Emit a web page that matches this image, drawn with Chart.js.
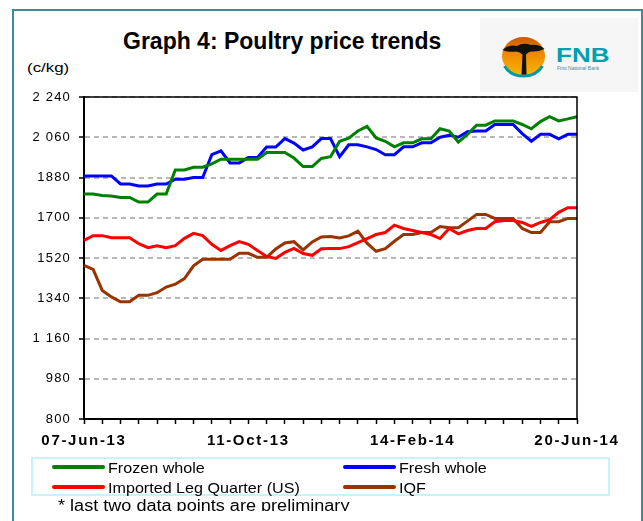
<!DOCTYPE html>
<html>
<head>
<meta charset="utf-8">
<script src="https://cdn.jsdelivr.net/npm/chart.js@4.4.1/dist/chart.umd.min.js"></script>
<style>
  html, body { margin: 0; padding: 0; background: #fff; }
  body { width: 643px; height: 521px; overflow: hidden; position: relative; font-family: "Liberation Sans", Arial, sans-serif; }
  #frame { position: absolute; left: 12px; top: 9px; width: 631px; height: 700px; box-sizing: border-box; border: 2px solid #3a8b9c; }
  #logoBg { position: absolute; left: 480px; top: 18px; width: 158px; height: 74px; background: #f6f6f6; }
  #logo { position: absolute; left: 500px; top: 35px; }
  #chart { position: absolute; left: 0; top: 0; }
  .txt { position: absolute; white-space: nowrap; color: #000; transform-origin: 0 0; }
  #title { left: 123px; top: 30px; font-size: 23px; line-height: 23px; font-weight: bold; }
  #unit { left: 27px; top: 61px; font-size: 13px; line-height: 13px; transform: scaleX(1.3); }
  #fnb { left: 556px; top: 45px; font-size: 20px; line-height: 20px; font-weight: bold; color: #00a0b0; transform: scaleX(1.3); }
  #fnbSub { left: 557px; top: 66px; font-size: 5px; line-height: 5px; color: #4a8a94; }
  #legend { position: absolute; left: 31px; top: 457px; width: 579px; height: 39px; box-sizing: border-box; border: 2px solid #c6f4f7; }
  .swatch { position: absolute; width: 53px; height: 4px; border-radius: 2px; }
  .lab { font-size: 15px; line-height: 15px; transform: scaleX(1.075); }
  #noteClip { position: absolute; left: 0; top: 490px; width: 643px; height: 21px; overflow: hidden; }
  #note { left: 58px; top: 8px; font-size: 16px; line-height: 16px; transform: scaleX(1.13); }
</style>
</head>
<body>
<div id="frame"></div>
<div id="logoBg"></div>
<svg id="logo" width="48" height="44" viewBox="0 0 48 44">
  <defs>
    <linearGradient id="sun" x1="0" y1="0" x2="0" y2="1">
      <stop offset="0" stop-color="#c85a00"/>
      <stop offset="0.45" stop-color="#ee8a00"/>
      <stop offset="1" stop-color="#fbb400"/>
    </linearGradient>
  </defs>
  <ellipse cx="23.5" cy="21" rx="21.5" ry="19" fill="url(#sun)"/>
  <path d="M4.5 31 A21.5 19 0 0 0 42.5 31" fill="none" stroke="#0099a8" stroke-width="3"/>
  <path d="M2.5 15 Q9 9 17 11 Q23 7 31 10 Q39 9 44.5 14 Q38 17 31 16.5 Q28 17 26 19.5 L26.5 39.5 L21.5 39.5 L22.5 19.5 Q20 17 16 16.5 Q9 17.5 2.5 15 Z" fill="#111"/>
</svg>
<div class="txt" id="fnb">FNB</div>
<div class="txt" id="fnbSub">First National Bank</div>
<div class="txt" id="title">Graph 4: Poultry price trends</div>
<div class="txt" id="unit">(c/kg)</div>
<canvas id="chart" width="643" height="521"></canvas>
<div id="legend"></div>
<div class="swatch" style="left:52px; top:465px; background:#008000;"></div>
<div class="txt lab" style="left:108px; top:460px;">Frozen whole</div>
<div class="swatch" style="left:343px; top:465px; background:#0000ff;"></div>
<div class="txt lab" style="left:399px; top:460px;">Fresh whole</div>
<div class="swatch" style="left:52px; top:485px; background:#ff0000;"></div>
<div class="txt lab" style="left:108px; top:480px;">Imported Leg Quarter (US)</div>
<div class="swatch" style="left:343px; top:485px; background:#993300;"></div>
<div class="txt lab" style="left:399px; top:480px;">IQF</div>
<div id="noteClip"><div class="txt" id="note">* last two data points are preliminary</div></div>

<script>
const categories = [
  '07-Jun-13', '14-Jun-13', '21-Jun-13', '28-Jun-13', '05-Jul-13', '12-Jul-13', '19-Jul-13', '26-Jul-13',
  '02-Aug-13', '09-Aug-13', '16-Aug-13', '23-Aug-13', '30-Aug-13', '06-Sep-13', '13-Sep-13', '20-Sep-13',
  '27-Sep-13', '04-Oct-13', '11-Oct-13', '18-Oct-13', '25-Oct-13', '01-Nov-13', '08-Nov-13', '15-Nov-13',
  '22-Nov-13', '29-Nov-13', '06-Dec-13', '13-Dec-13', '20-Dec-13', '27-Dec-13', '03-Jan-14', '10-Jan-14',
  '17-Jan-14', '24-Jan-14', '31-Jan-14', '07-Feb-14', '14-Feb-14', '21-Feb-14', '28-Feb-14', '07-Mar-14',
  '14-Mar-14', '21-Mar-14', '28-Mar-14', '04-Apr-14', '11-Apr-14', '18-Apr-14', '25-Apr-14', '02-May-14',
  '09-May-14', '16-May-14', '23-May-14', '30-May-14', '06-Jun-14', '13-Jun-14', '20-Jun-14'
];
const xTickLabels = ['07-Jun-13', '11-Oct-13', '14-Feb-14', '20-Jun-14'];
const yTickLabels = ['800', '980', '1 160', '1340', '1520', '1700', '1880', '2 060', '2 240'];

const frozenWhole = [
  1806, 1806, 1800, 1797, 1791, 1791, 1770, 1770, 1806, 1806, 1914, 1914, 1926, 1926, 1941, 1962,
  1962, 1962, 1962, 1962, 1992, 1992, 1992, 1967, 1929, 1929, 1965, 1973, 2042, 2056, 2088, 2109,
  2057, 2042, 2017, 2035, 2035, 2053, 2053, 2098, 2088, 2038, 2073, 2114, 2114, 2133, 2133, 2133,
  2117, 2098, 2130, 2152, 2133, 2142, 2152
];
const freshWhole = [
  1887, 1887, 1887, 1887, 1851, 1851, 1842, 1842, 1851, 1851, 1872, 1872, 1880, 1880, 1982, 1999,
  1945, 1945, 1970, 1970, 2016, 2016, 2054, 2034, 2003, 2017, 2054, 2054, 1973, 2026, 2026, 2017,
  2005, 1982, 1982, 2017, 2017, 2035, 2035, 2060, 2069, 2060, 2085, 2088, 2088, 2117, 2117, 2117,
  2076, 2042, 2073, 2073, 2053, 2073, 2073
];
const importedLegQuarter = [
  1599, 1620, 1620, 1611, 1611, 1611, 1584, 1566, 1575, 1566, 1575, 1608, 1630, 1620, 1581, 1554,
  1575, 1593, 1581, 1554, 1527, 1518, 1545, 1563, 1540, 1532, 1561, 1562, 1562, 1571, 1589, 1607,
  1625, 1634, 1667, 1652, 1643, 1634, 1625, 1607, 1652, 1628, 1643, 1652, 1652, 1682, 1688, 1688,
  1679, 1661, 1679, 1691, 1724, 1745, 1745
];
const iqf = [
  1487, 1469, 1375, 1346, 1324, 1324, 1353, 1353, 1365, 1390, 1403, 1428, 1485, 1514, 1514, 1514,
  1514, 1541, 1541, 1523, 1523, 1560, 1587, 1593, 1556, 1592, 1614, 1616, 1610, 1619, 1640, 1586,
  1550, 1562, 1595, 1625, 1625, 1634, 1634, 1661, 1655, 1655, 1685, 1715, 1715, 1697, 1697, 1697,
  1652, 1634, 1634, 1682, 1682, 1697, 1697
];

// top/right plot frame and letter spacing for the axis labels
const framePlugin = {
  id: 'frame',
  beforeDraw(chart) {
    chart.ctx.letterSpacing = '1.2px';
  },
  afterDatasetsDraw(chart) {
    chart.ctx.letterSpacing = '1.7px';
  },
  afterDraw(chart) {
    const { ctx, chartArea: { left, top, right, bottom } } = chart;
    ctx.save();
    ctx.strokeStyle = '#000';
    ctx.lineWidth = 1.5;
    ctx.beginPath();
    ctx.moveTo(left, top);
    ctx.lineTo(right, top);
    ctx.lineTo(right, bottom);
    ctx.stroke();
    ctx.restore();
    ctx.letterSpacing = '0px';
  }
};

const ctx = document.getElementById('chart').getContext('2d');

new Chart(ctx, {
  type: 'line',
  data: {
    labels: categories,
    datasets: [
      { label: 'Frozen whole', data: frozenWhole, borderColor: '#008000' },
      { label: 'Fresh whole', data: freshWhole, borderColor: '#0000ff' },
      { label: 'Imported Leg Quarter (US)', data: importedLegQuarter, borderColor: '#ff0000' },
      { label: 'IQF', data: iqf, borderColor: '#993300' }
    ]
  },
  options: {
    responsive: false,
    animation: false,
    layout: { padding: { top: 97, right: 66, left: 0, bottom: 0 } },
    elements: {
      line: { borderWidth: 3, tension: 0, fill: false },
      point: { radius: 0 }
    },
    plugins: {
      legend: { display: false },
      title: { display: false },
      tooltip: { enabled: false }
    },
    scales: {
      x: {
        grid: {
          drawOnChartArea: false,
          tickLength: 5,
          tickWidth: 1.5,
          tickColor: (c) => (c.index % 2 === 0 ? '#000' : 'rgba(0,0,0,0)')
        },
        border: { color: '#000', width: 2 },
        ticks: {
          autoSkip: false,
          maxRotation: 0,
          minRotation: 0,
          padding: 8,
          z: 1,
          color: '#000',
          font: { family: 'Liberation Sans', size: 15, weight: 'bold' },
          callback: (v, i) => (xTickLabels.includes(categories[i]) ? categories[i] : '')
        },
        afterFit: (s) => { s.height = 102; }
      },
      y: {
        min: 800,
        max: 2240,
        grid: { color: '#b8b8b8', lineWidth: 2, tickLength: 5, tickWidth: 1.5, tickColor: '#000' },
        border: { color: '#000', width: 2, dash: [5, 4] },
        ticks: {
          stepSize: 180,
          padding: 8,
          color: '#000',
          font: { family: 'Liberation Sans', size: 13 },
          callback: (v, i) => yTickLabels[i]
        },
        afterFit: (s) => { s.width = 84; }
      }
    }
  },
  plugins: [framePlugin]
});
</script>
</body>
</html>
